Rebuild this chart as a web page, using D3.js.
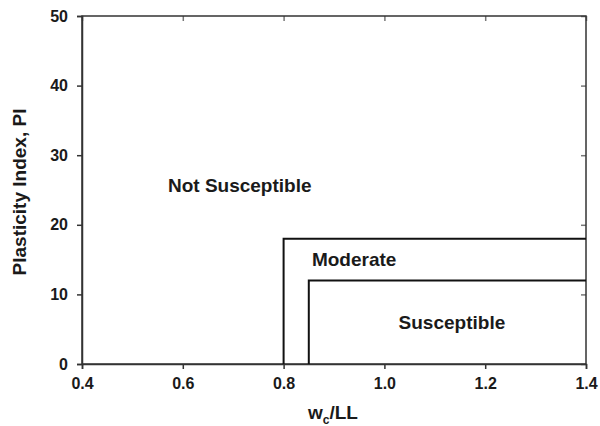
<!DOCTYPE html>
<html>
<head>
<meta charset="utf-8">
<script src="https://cdnjs.cloudflare.com/ajax/libs/d3/7.8.5/d3.min.js"></script>
<style>
  body { margin: 0; background: #fff; }
  text { font-family: Arial, "Liberation Sans", sans-serif; font-weight: bold; }
</style>
</head>
<body>
<script>
// chart data
var xTicks = [0.4, 0.6, 0.8, 1.0, 1.2, 1.4];
var yTicks = [0, 10, 20, 30, 40, 50];
var moderateLine = [[0.8, 0], [0.8, 18], [1.4, 18]];
var susceptibleLine = [[0.85, 0], [0.85, 12], [1.4, 12]];
var zoneNames = ["Not Susceptible", "Moderate", "Susceptible"];
var zoneX = [0.713, 0.94, 1.134];
var zoneY = [25.6, 15.1, 6.0];

var w = 600, h = 426;
var margin = {left: 82, right: 14, top: 16, bottom: 62};

var svg = d3.select("body").append("svg")
  .attr("width", w).attr("height", h);

var x = d3.scaleLinear().domain([0.4, 1.4]).range([margin.left, w - margin.right]);
var y = d3.scaleLinear().domain([0, 50]).range([h - margin.bottom, margin.top]);

// mirrored inner ticks on top / right
svg.append("g")
  .attr("transform", "translate(0," + margin.top + ")")
  .call(d3.axisBottom(x).tickValues(xTicks).tickSize(5).tickFormat(""))
  .call(function(g) { g.select(".domain").remove(); g.selectAll("line").attr("stroke", "#777").attr("stroke-width", 1.5); });
svg.append("g")
  .attr("transform", "translate(" + (w - margin.right) + ",0)")
  .call(d3.axisLeft(y).tickValues(yTicks).tickSize(5).tickFormat(""))
  .call(function(g) { g.select(".domain").remove(); g.selectAll("line").attr("stroke", "#777").attr("stroke-width", 1.5); });

// frame
svg.append("rect")
  .attr("x", margin.left).attr("y", margin.top)
  .attr("width", w - margin.left - margin.right)
  .attr("height", h - margin.top - margin.bottom)
  .attr("fill", "none").attr("stroke", "#333").attr("stroke-width", 1.5);

var xAxis = svg.append("g")
  .attr("transform", "translate(0," + (h - margin.bottom) + ")")
  .call(d3.axisBottom(x).tickValues(xTicks).tickSize(5).tickPadding(9).tickFormat(d3.format(".1f")));
xAxis.select(".domain").attr("stroke", "#333").attr("stroke-width", 1.5);
xAxis.selectAll("line").attr("stroke", "#333").attr("stroke-width", 1.5);
xAxis.selectAll("text").attr("font-size", 16).attr("fill", "#1a1a1a");

var yAxis = svg.append("g")
  .attr("transform", "translate(" + margin.left + ",0)")
  .call(d3.axisLeft(y).tickValues(yTicks).tickSize(5).tickPadding(9));
yAxis.select(".domain").attr("stroke", "#333").attr("stroke-width", 1.5);
yAxis.selectAll("line").attr("stroke", "#333").attr("stroke-width", 1.5);
yAxis.selectAll("text").attr("font-size", 16).attr("fill", "#1a1a1a");

// boundary lines
var line = d3.line().x(function(d) { return x(d[0]); }).y(function(d) { return y(d[1]); });
[moderateLine, susceptibleLine].forEach(function(pts) {
  svg.append("path")
    .attr("d", line(pts))
    .attr("fill", "none")
    .attr("stroke", "#111")
    .attr("stroke-width", 2);
});

// zone labels
zoneNames.forEach(function(name, i) {
  svg.append("text")
    .text(name)
    .attr("x", x(zoneX[i]))
    .attr("y", y(zoneY[i]))
    .attr("dy", "0.35em")
    .attr("text-anchor", "middle")
    .attr("font-size", 19)
    .attr("fill", "#1a1a1a");
});

// axis titles
var xt = svg.append("text")
  .attr("x", 308)
  .attr("y", 419)
  .attr("font-size", 19)
  .attr("fill", "#1a1a1a");
xt.append("tspan").text("w");
xt.append("tspan").text("c").attr("font-size", 12).attr("dy", 5);
xt.append("tspan").text("/LL").attr("dy", -5);

svg.append("text")
  .text("Plasticity Index, PI")
  .attr("transform", "translate(26,192) rotate(-90)")
  .attr("text-anchor", "middle")
  .attr("font-size", 19)
  .attr("fill", "#1a1a1a");
</script>
</body>
</html>
